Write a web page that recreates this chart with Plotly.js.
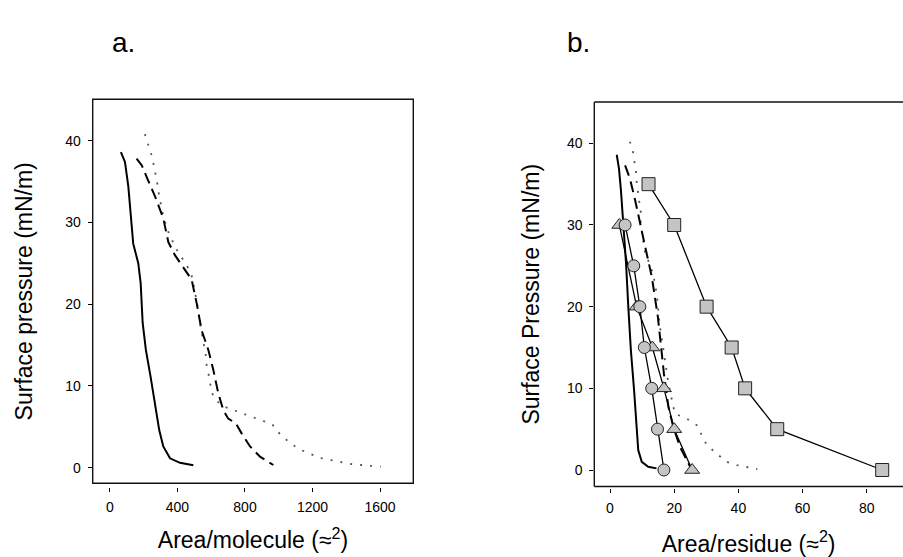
<!DOCTYPE html>
<html>
<head>
<meta charset="utf-8">
<script src="https://cdn.plot.ly/plotly-3.0.1.min.js"></script>
<style>html,body{margin:0;padding:0;overflow:hidden;background:#fff}</style>
</head>
<body>
<div id="chart" style="width:903px;height:557px"></div>
<script>
// ---------- Panel a: Area/molecule ----------
const aSolidX = [65, 89, 109, 122, 138, 168, 182, 194, 213, 241, 267, 292, 316, 356, 415, 494];
const aSolidY = [38.6, 37.4, 34.4, 30.7, 27.4, 25.0, 22.6, 17.7, 14.4, 11.1, 7.9, 4.6, 2.6, 1.15, 0.6, 0.3];

const aDashX = [158, 188, 221, 267, 316, 346, 385, 431, 484, 514, 543, 583, 612, 642, 672, 701, 747, 780, 830, 889, 968];
const aDashY = [37.8, 37.0, 35.4, 33.2, 30.5, 27.6, 26.0, 24.6, 23.0, 20.1, 16.8, 14.4, 12.0, 9.1, 7.0, 6.0, 5.4, 4.2, 2.6, 1.35, 0.33];

const aDotX = [207, 227, 247, 261, 273, 283, 292, 306, 316, 350, 400, 454, 484, 498, 510, 520, 537, 549, 557, 569, 573, 588, 597, 612, 660, 727, 786, 849, 908, 962, 1007, 1063, 1122, 1185, 1245, 1304, 1367, 1428, 1487, 1546, 1604];
const aDotY = [40.8, 39.5, 38.2, 36.9, 35.7, 34.5, 33.2, 32.0, 30.8, 28.6, 26.5, 24.8, 23.5, 22.1, 20.9, 19.7, 17.3, 16.0, 14.8, 13.6, 12.4, 11.1, 9.9, 8.7, 7.6, 7.1, 6.65, 6.2, 5.8, 5.3, 4.1, 3.1, 2.25, 1.7, 1.2, 0.95, 0.65, 0.45, 0.33, 0.2, 0.12];

// ---------- Panel b: Area/residue ----------
const bSolidX = [2.1, 2.8, 3.4, 4.2, 5.0, 5.7, 6.5, 7.5, 8.3, 8.8, 9.9, 11.9, 14.5];
const bSolidY = [38.6, 36.9, 34.3, 30.2, 25.3, 20.0, 14.7, 9.8, 5.7, 2.45, 1.0, 0.4, 0.2];

const bDashX = [4.7, 6.2, 7.8, 9.3, 11.2, 13.0, 14.0, 14.9, 15.8, 16.8, 18.2, 19.7, 21.8, 23.9, 25.1];
const bDashY = [37.3, 35.7, 33.1, 30.2, 26.9, 23.7, 21.2, 18.8, 15.5, 11.8, 7.75, 5.3, 2.85, 1.2, 0.3];

const bDotX = [6.2, 7.1, 7.6, 8.1, 8.3, 8.6, 9.1, 9.6, 9.6, 9.9, 10.4, 10.9, 13.2, 14.0, 14.5, 14.9, 15.4, 15.9, 16.3, 17.4, 18.2, 20.2, 23.9, 27.0, 28.6, 30.1, 33.2, 36.4, 39.5, 42.8, 45.9];
const bDotY = [40.2, 39.1, 37.8, 36.5, 35.3, 34.1, 32.9, 31.6, 30.4, 29.2, 27.9, 26.7, 24.3, 22.9, 21.6, 20.4, 18.0, 16.7, 15.5, 13.1, 10.6, 6.9, 6.3, 5.5, 4.3, 3.1, 2.0, 1.0, 0.6, 0.3, 0.1];

const squareX = [12, 20, 30.1, 37.9, 42.1, 52.1, 84.8];
const squareY = [35, 30, 20, 15, 10, 5, 0];

const circleX = [4.7, 7.4, 9.3, 10.7, 13.0, 14.8, 16.8];
const circleY = [30, 25, 20, 15, 10, 5, 0];

const triangleX = [2.9, 8.3, 13.2, 16.8, 20.0, 25.6];
const triangleY = [30, 20, 15, 10, 5, 0];

// tick labels
const aXTicks = [0, 400, 800, 1200, 1600];
const bXTicks = [0, 20, 40, 60, 80];
const yTicks = [0, 10, 20, 30, 40];

// ---------- geometry (pixels) ----------
const W = 903, H = 557;
const px = v => v / W;
const py = v => 1 - v / H;

const solidLine = {color: '#000', width: 2};
const dashLine = {color: '#000', width: 2, dash: '11px,6px'};
const dotLine = {color: '#555', width: 1.8, dash: '2px,8px'};
const markerStyle = (sym, size) => ({symbol: sym, size: size, color: '#c4c4c4', line: {color: '#222', width: 1}});

const traces = [
  {x: aDotX, y: aDotY, xaxis: 'x', yaxis: 'y', mode: 'lines', line: dotLine},
  {x: aDashX, y: aDashY, xaxis: 'x', yaxis: 'y', mode: 'lines', line: dashLine},
  {x: aSolidX, y: aSolidY, xaxis: 'x', yaxis: 'y', mode: 'lines', line: solidLine},

  {x: bDotX, y: bDotY, xaxis: 'x2', yaxis: 'y2', mode: 'lines', line: dotLine},
  {x: bDashX, y: bDashY, xaxis: 'x2', yaxis: 'y2', mode: 'lines', line: dashLine},
  {x: bSolidX, y: bSolidY, xaxis: 'x2', yaxis: 'y2', mode: 'lines', line: solidLine},
  {x: squareX, y: squareY, xaxis: 'x2', yaxis: 'y2', mode: 'lines+markers', line: {color: '#000', width: 1.3}, marker: markerStyle('square', 13), cliponaxis: false},
  {x: triangleX, y: triangleY, xaxis: 'x2', yaxis: 'y2', mode: 'lines+markers', line: {color: '#000', width: 1.3}, marker: markerStyle('triangle-up', 13), cliponaxis: false},
  {x: circleX, y: circleY, xaxis: 'x2', yaxis: 'y2', mode: 'lines+markers', line: {color: '#000', width: 1.3}, marker: markerStyle('circle', 12), cliponaxis: false}
];

const tickFont = {family: 'Liberation Sans, Arial, sans-serif', size: 14, color: '#000'};
const titleFont = {family: 'Liberation Sans, Arial, sans-serif', size: 23, color: '#000'};

const commonAxis = {
  showgrid: false, zeroline: false, showline: false,
  ticks: 'outside', ticklen: 4, tickwidth: 1, tickcolor: '#000',
  tickfont: tickFont, automargin: false, fixedrange: true
};

const layout = {
  width: W, height: H,
  margin: {l: 0, r: 0, t: 0, b: 0},
  paper_bgcolor: '#fff', plot_bgcolor: '#fff',
  showlegend: false,
  xaxis: Object.assign({}, commonAxis, {
    domain: [px(92.7), px(413.3)], range: [-102, 1797],
    anchor: 'free', position: py(487),
    tickvals: aXTicks, ticktext: aXTicks.map(String), ticklabelstandoff: 3,
    title: {text: 'Area/molecule (≈<sup>2</sup>)', font: titleFont, standoff: 18}
  }),
  yaxis: Object.assign({}, commonAxis, {
    domain: [py(483.3), py(99.3)], range: [-1.908, 45.06],
    anchor: 'x',
    tickvals: yTicks, ticktext: yTicks.map(String), ticklabelstandoff: 4,
    title: {text: 'Surface pressure (mN/m)', font: titleFont, standoff: 26}
  }),
  xaxis2: Object.assign({}, commonAxis, {
    domain: [px(594.3), 1], range: [-4.89, 91.28],
    anchor: 'free', position: py(488),
    tickvals: bXTicks, ticktext: bXTicks.map(String), ticklabelstandoff: 3,
    title: {text: 'Area/residue (≈<sup>2</sup>)', font: titleFont, standoff: 21}
  }),
  yaxis2: Object.assign({}, commonAxis, {
    domain: [py(486.5), py(102)], range: [-2.02, 45.06],
    anchor: 'x2',
    tickvals: yTicks, ticktext: yTicks.map(String), ticklabelstandoff: 4,
    title: {text: 'Surface Pressure (mN/m)', font: titleFont, standoff: 20}
  }),
  shapes: [
    {type: 'rect', xref: 'x domain', yref: 'y domain', x0: 0, x1: 1, y0: 0, y1: 1, line: {color: '#111', width: 1.4}},
    {type: 'line', xref: 'x2 domain', yref: 'y2 domain', x0: 0, x1: 1, y0: 1, y1: 1, line: {color: '#111', width: 1.4}},
    {type: 'line', xref: 'x2 domain', yref: 'y2 domain', x0: 0, x1: 0, y0: 0, y1: 1, line: {color: '#111', width: 1.4}},
    {type: 'line', xref: 'x2 domain', yref: 'y2 domain', x0: 0, x1: 1, y0: 0, y1: 0, line: {color: '#111', width: 1.4}}
  ],
  annotations: [
    {text: 'a.', xref: 'paper', yref: 'paper', x: px(110), y: py(60), xanchor: 'left', yanchor: 'bottom', showarrow: false, font: {family: 'Liberation Sans, Arial, sans-serif', size: 28, color: '#000'}},
    {text: 'b.', xref: 'paper', yref: 'paper', x: px(565), y: py(60), xanchor: 'left', yanchor: 'bottom', showarrow: false, font: {family: 'Liberation Sans, Arial, sans-serif', size: 28, color: '#000'}}
  ]
};

Plotly.newPlot('chart', traces, layout, {staticPlot: true, displayModeBar: false});
</script>
</body>
</html>
